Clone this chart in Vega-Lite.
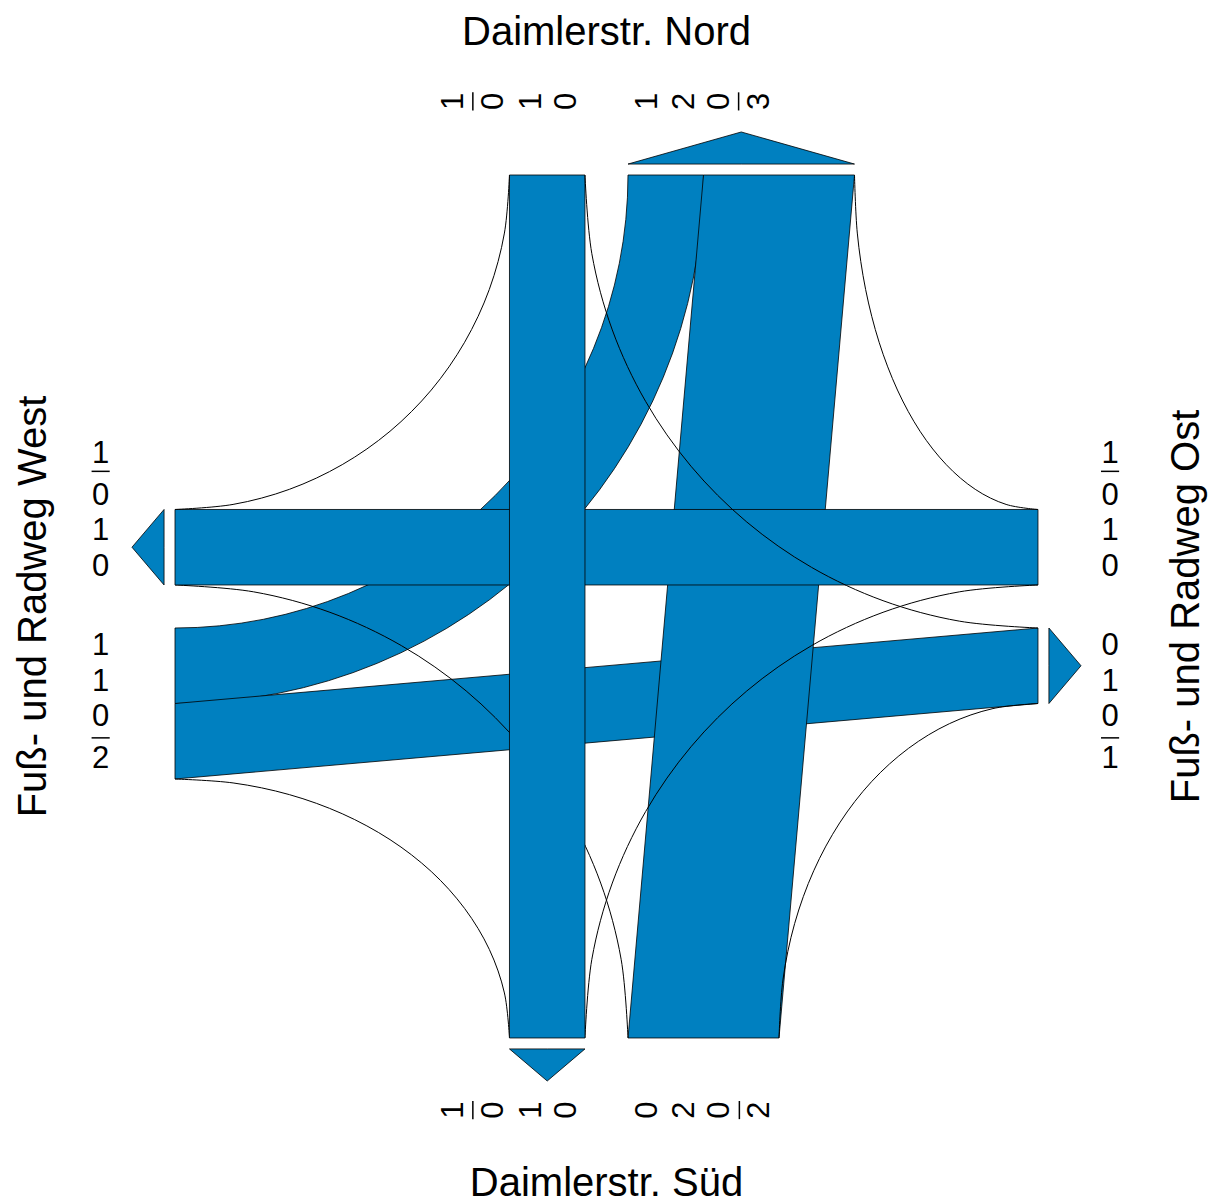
{
  "$schema": "https://vega.github.io/schema/vega-lite/v6.json",
  "width": 1216,
  "height": 1204,
  "autosize": "none",
  "padding": 0,
  "background": "white",
  "config": {"view": {"stroke": null}},
  "datasets": {
    "hbands": [
      {"band": "WE", "arm": "W", "x": -5.715, "y": -1.285, "y2": -2.285},
      {"band": "WE", "arm": "W", "x": 5.715, "y": -0.285, "y2": -1.285},
      {"band": "EW", "arm": "E", "x": -5.715, "y": 1.285, "y2": 0.285},
      {"band": "EW", "arm": "E", "x": 5.715, "y": 1.285, "y2": 0.285}
    ],
    "vbands": [
      {"band": "SN", "arm": "S", "y": -5.715, "x": 0.285, "x2": 2.285},
      {"band": "SN", "arm": "S", "y": 5.715, "x": 1.285, "x2": 3.285},
      {"band": "NS", "arm": "N", "y": -5.715, "x": -1.285, "x2": -0.285},
      {"band": "NS", "arm": "N", "y": 5.715, "x": -1.285, "x2": -0.285}
    ],
    "turns": [
      {"band": "WN", "arm": "W", "n": 1, "x": -5.715, "y": 5.715, "r1": 6, "r2": 7, "t1": 90, "t2": 180}
    ],
    "curves": [
      {"id": "NW", "arm": "N", "i": 0, "x": -1.285, "y": 5.715},
      {"id": "NW", "arm": "N", "i": 1, "x": -1.352, "y": 4.946},
      {"id": "NW", "arm": "N", "i": 2, "x": -1.552, "y": 4.2},
      {"id": "NW", "arm": "N", "i": 3, "x": -1.879, "y": 3.5},
      {"id": "NW", "arm": "N", "i": 4, "x": -2.321, "y": 2.867},
      {"id": "NW", "arm": "N", "i": 5, "x": -2.867, "y": 2.321},
      {"id": "NW", "arm": "N", "i": 6, "x": -3.5, "y": 1.879},
      {"id": "NW", "arm": "N", "i": 7, "x": -4.2, "y": 1.552},
      {"id": "NW", "arm": "N", "i": 8, "x": -4.946, "y": 1.352},
      {"id": "NW", "arm": "N", "i": 9, "x": -5.715, "y": 1.285},
      {"id": "NE", "arm": "N", "i": 0, "x": -0.285, "y": 5.715},
      {"id": "NE", "arm": "N", "i": 1, "x": -0.194, "y": 4.673},
      {"id": "NE", "arm": "N", "i": 2, "x": 0.077, "y": 3.663},
      {"id": "NE", "arm": "N", "i": 3, "x": 0.519, "y": 2.715},
      {"id": "NE", "arm": "N", "i": 4, "x": 1.119, "y": 1.858},
      {"id": "NE", "arm": "N", "i": 5, "x": 1.858, "y": 1.119},
      {"id": "NE", "arm": "N", "i": 6, "x": 2.715, "y": 0.519},
      {"id": "NE", "arm": "N", "i": 7, "x": 3.663, "y": 0.077},
      {"id": "NE", "arm": "N", "i": 8, "x": 4.673, "y": -0.194},
      {"id": "NE", "arm": "N", "i": 9, "x": 5.715, "y": -0.285},
      {"id": "EN", "arm": "E", "i": 0, "x": 3.285, "y": 5.715},
      {"id": "EN", "arm": "E", "i": 1, "x": 3.322, "y": 4.946},
      {"id": "EN", "arm": "E", "i": 2, "x": 3.432, "y": 4.2},
      {"id": "EN", "arm": "E", "i": 3, "x": 3.611, "y": 3.5},
      {"id": "EN", "arm": "E", "i": 4, "x": 3.854, "y": 2.867},
      {"id": "EN", "arm": "E", "i": 5, "x": 4.153, "y": 2.321},
      {"id": "EN", "arm": "E", "i": 6, "x": 4.5, "y": 1.879},
      {"id": "EN", "arm": "E", "i": 7, "x": 4.884, "y": 1.552},
      {"id": "EN", "arm": "E", "i": 8, "x": 5.293, "y": 1.352},
      {"id": "EN", "arm": "E", "i": 9, "x": 5.715, "y": 1.285},
      {"id": "ES", "arm": "E", "i": 0, "x": -0.285, "y": -5.715},
      {"id": "ES", "arm": "E", "i": 1, "x": -0.194, "y": -4.673},
      {"id": "ES", "arm": "E", "i": 2, "x": 0.077, "y": -3.663},
      {"id": "ES", "arm": "E", "i": 3, "x": 0.519, "y": -2.715},
      {"id": "ES", "arm": "E", "i": 4, "x": 1.119, "y": -1.858},
      {"id": "ES", "arm": "E", "i": 5, "x": 1.858, "y": -1.119},
      {"id": "ES", "arm": "E", "i": 6, "x": 2.715, "y": -0.519},
      {"id": "ES", "arm": "E", "i": 7, "x": 3.663, "y": -0.077},
      {"id": "ES", "arm": "E", "i": 8, "x": 4.673, "y": 0.194},
      {"id": "ES", "arm": "E", "i": 9, "x": 5.715, "y": 0.285},
      {"id": "SE", "arm": "S", "i": 0, "x": 2.285, "y": -5.715},
      {"id": "SE", "arm": "S", "i": 1, "x": 2.337, "y": -4.946},
      {"id": "SE", "arm": "S", "i": 2, "x": 2.492, "y": -4.2},
      {"id": "SE", "arm": "S", "i": 3, "x": 2.745, "y": -3.5},
      {"id": "SE", "arm": "S", "i": 4, "x": 3.088, "y": -2.867},
      {"id": "SE", "arm": "S", "i": 5, "x": 3.51, "y": -2.321},
      {"id": "SE", "arm": "S", "i": 6, "x": 4.0, "y": -1.879},
      {"id": "SE", "arm": "S", "i": 7, "x": 4.542, "y": -1.552},
      {"id": "SE", "arm": "S", "i": 8, "x": 5.119, "y": -1.352},
      {"id": "SE", "arm": "S", "i": 9, "x": 5.715, "y": -1.285},
      {"id": "SW", "arm": "S", "i": 0, "x": 0.285, "y": -5.715},
      {"id": "SW", "arm": "S", "i": 1, "x": 0.194, "y": -4.673},
      {"id": "SW", "arm": "S", "i": 2, "x": -0.077, "y": -3.663},
      {"id": "SW", "arm": "S", "i": 3, "x": -0.519, "y": -2.715},
      {"id": "SW", "arm": "S", "i": 4, "x": -1.119, "y": -1.858},
      {"id": "SW", "arm": "S", "i": 5, "x": -1.858, "y": -1.119},
      {"id": "SW", "arm": "S", "i": 6, "x": -2.715, "y": -0.519},
      {"id": "SW", "arm": "S", "i": 7, "x": -3.663, "y": -0.077},
      {"id": "SW", "arm": "S", "i": 8, "x": -4.673, "y": 0.194},
      {"id": "SW", "arm": "S", "i": 9, "x": -5.715, "y": 0.285},
      {"id": "WS", "arm": "W", "i": 0, "x": -1.285, "y": -5.715},
      {"id": "WS", "arm": "W", "i": 1, "x": -1.352, "y": -5.119},
      {"id": "WS", "arm": "W", "i": 2, "x": -1.552, "y": -4.542},
      {"id": "WS", "arm": "W", "i": 3, "x": -1.879, "y": -4.0},
      {"id": "WS", "arm": "W", "i": 4, "x": -2.321, "y": -3.51},
      {"id": "WS", "arm": "W", "i": 5, "x": -2.867, "y": -3.088},
      {"id": "WS", "arm": "W", "i": 6, "x": -3.5, "y": -2.745},
      {"id": "WS", "arm": "W", "i": 7, "x": -4.2, "y": -2.492},
      {"id": "WS", "arm": "W", "i": 8, "x": -4.946, "y": -2.337},
      {"id": "WS", "arm": "W", "i": 9, "x": -5.715, "y": -2.285}
    ],
    "arrowsV": [
      {"id": "N", "x": 0.285, "y": 5.86, "y2": 5.86},
      {"id": "N", "x": 1.785, "y": 6.285, "y2": 5.86},
      {"id": "N", "x": 3.285, "y": 5.86, "y2": 5.86},
      {"id": "S", "x": -1.285, "y": -5.86, "y2": -5.86},
      {"id": "S", "x": -0.785, "y": -6.285, "y2": -5.86},
      {"id": "S", "x": -0.285, "y": -5.86, "y2": -5.86}
    ],
    "arrowsH": [
      {"id": "W", "y": 0.285, "x": -5.86, "x2": -5.86},
      {"id": "W", "y": 0.785, "x": -6.285, "x2": -5.86},
      {"id": "W", "y": 1.285, "x": -5.86, "x2": -5.86},
      {"id": "E", "y": -1.285, "x": 5.86, "x2": 5.86},
      {"id": "E", "y": -0.785, "x": 6.285, "x2": 5.86},
      {"id": "E", "y": -0.285, "x": 5.86, "x2": 5.86}
    ],
    "labels": [
      {"lane": "W out", "dir": "h", "v": "1", "x": -6.7, "y": 2.02},
      {"lane": "W out", "dir": "h", "v": "0", "x": -6.7, "y": 1.47},
      {"lane": "W out", "dir": "h", "v": "1", "x": -6.7, "y": 0.995},
      {"lane": "W out", "dir": "h", "v": "0", "x": -6.7, "y": 0.52},
      {"lane": "W in", "dir": "h", "v": "1", "x": -6.7, "y": -0.52},
      {"lane": "W in", "dir": "h", "v": "1", "x": -6.7, "y": -0.995},
      {"lane": "W in", "dir": "h", "v": "0", "x": -6.7, "y": -1.47},
      {"lane": "W in", "dir": "h", "v": "2", "x": -6.7, "y": -2.02},
      {"lane": "E in", "dir": "h", "v": "1", "x": 6.67, "y": 2.02},
      {"lane": "E in", "dir": "h", "v": "0", "x": 6.67, "y": 1.47},
      {"lane": "E in", "dir": "h", "v": "1", "x": 6.67, "y": 0.995},
      {"lane": "E in", "dir": "h", "v": "0", "x": 6.67, "y": 0.52},
      {"lane": "E out", "dir": "h", "v": "0", "x": 6.67, "y": -0.52},
      {"lane": "E out", "dir": "h", "v": "1", "x": 6.67, "y": -0.995},
      {"lane": "E out", "dir": "h", "v": "0", "x": 6.67, "y": -1.47},
      {"lane": "E out", "dir": "h", "v": "1", "x": 6.67, "y": -2.02},
      {"lane": "N in", "dir": "v", "v": "1", "x": -2.02, "y": 6.69},
      {"lane": "N in", "dir": "v", "v": "0", "x": -1.49, "y": 6.69},
      {"lane": "N in", "dir": "v", "v": "1", "x": -0.99, "y": 6.69},
      {"lane": "N in", "dir": "v", "v": "0", "x": -0.52, "y": 6.69},
      {"lane": "N out", "dir": "v", "v": "1", "x": 0.55, "y": 6.69},
      {"lane": "N out", "dir": "v", "v": "2", "x": 1.04, "y": 6.69},
      {"lane": "N out", "dir": "v", "v": "0", "x": 1.5, "y": 6.69},
      {"lane": "N out", "dir": "v", "v": "3", "x": 2.03, "y": 6.69},
      {"lane": "S out", "dir": "v", "v": "1", "x": -2.02, "y": -6.67},
      {"lane": "S out", "dir": "v", "v": "0", "x": -1.49, "y": -6.67},
      {"lane": "S out", "dir": "v", "v": "1", "x": -0.99, "y": -6.67},
      {"lane": "S out", "dir": "v", "v": "0", "x": -0.52, "y": -6.67},
      {"lane": "S in", "dir": "v", "v": "0", "x": 0.55, "y": -6.67},
      {"lane": "S in", "dir": "v", "v": "2", "x": 1.04, "y": -6.67},
      {"lane": "S in", "dir": "v", "v": "0", "x": 1.5, "y": -6.67},
      {"lane": "S in", "dir": "v", "v": "2", "x": 2.03, "y": -6.67}
    ],
    "bars": [
      {"lane": "W out", "x": -6.82, "x2": -6.58, "y": 1.79, "y2": 1.79},
      {"lane": "W in", "x": -6.82, "x2": -6.58, "y": -1.74, "y2": -1.74},
      {"lane": "E in", "x": 6.55, "x2": 6.79, "y": 1.79, "y2": 1.79},
      {"lane": "E out", "x": 6.55, "x2": 6.79, "y": -1.74, "y2": -1.74},
      {"lane": "N in", "x": -1.77, "x2": -1.77, "y": 6.57, "y2": 6.81},
      {"lane": "N out", "x": 1.75, "x2": 1.75, "y": 6.57, "y2": 6.81},
      {"lane": "S out", "x": -1.77, "x2": -1.77, "y": -6.79, "y2": -6.55},
      {"lane": "S in", "x": 1.76, "x2": 1.76, "y": -6.79, "y2": -6.55}
    ],
    "titles": [
      {"t": "Daimlerstr. Nord", "dir": "h", "x": 0, "y": 7.437},
      {"t": "Daimlerstr. Süd", "dir": "h", "x": 0, "y": -7.808},
      {"t": "Fuß- und Radweg West", "dir": "v", "x": -7.424, "y": 0},
      {"t": "Fuß- und Radweg Ost", "dir": "v", "x": 7.848, "y": 0}
    ]
  },
  "encoding": {
    "x": {"field": "x", "type": "quantitative", "scale": {"domain": [-8.033, 8.073], "nice": false, "zero": false}, "axis": null},
    "y": {"field": "y", "type": "quantitative", "scale": {"domain": [-7.914, 8.033], "nice": false, "zero": false}, "axis": null}
  },
  "layer": [
    {
      "data": {"name": "turns"},
      "transform": [{"filter": "datum.arm == 'W'"}],
      "mark": {"type": "arc", "fill": "#0080C0", "stroke": "black", "strokeWidth": 0.8},
      "encoding": {
        "theta": {"field": "t1", "type": "quantitative", "stack": null, "scale": {"type": "linear", "domain": [0, 360], "range": [0, 6.283185307]}},
        "theta2": {"field": "t2"},
        "radius": {"field": "r1", "type": "quantitative", "scale": {"type": "linear", "domain": [0, 10], "range": [0, 755], "zero": true}},
        "radius2": {"field": "r2"}
      }
    },
    {
      "data": {"name": "hbands"},
      "transform": [{"filter": "datum.arm == 'W'"}],
      "mark": {"type": "area", "orient": "vertical", "fill": "#0080C0", "stroke": "black", "strokeWidth": 0.8},
      "encoding": {"y2": {"field": "y2"}}
    },
    {
      "data": {"name": "curves"},
      "transform": [{"filter": "datum.arm == 'W'"}],
      "mark": {"type": "line", "color": "black", "strokeWidth": 1, "interpolate": "cardinal"},
      "encoding": {"detail": {"field": "id"}, "order": {"field": "i"}}
    },
    {
      "data": {"name": "vbands"},
      "transform": [{"filter": "datum.arm == 'S'"}],
      "mark": {"type": "area", "orient": "horizontal", "fill": "#0080C0", "stroke": "black", "strokeWidth": 0.8},
      "encoding": {"x2": {"field": "x2"}}
    },
    {
      "data": {"name": "curves"},
      "transform": [{"filter": "datum.arm == 'S'"}],
      "mark": {"type": "line", "color": "black", "strokeWidth": 1, "interpolate": "cardinal"},
      "encoding": {"detail": {"field": "id"}, "order": {"field": "i"}}
    },
    {
      "data": {"name": "hbands"},
      "transform": [{"filter": "datum.arm == 'E'"}],
      "mark": {"type": "area", "orient": "vertical", "fill": "#0080C0", "stroke": "black", "strokeWidth": 0.8},
      "encoding": {"y2": {"field": "y2"}}
    },
    {
      "data": {"name": "curves"},
      "transform": [{"filter": "datum.arm == 'E'"}],
      "mark": {"type": "line", "color": "black", "strokeWidth": 1, "interpolate": "cardinal"},
      "encoding": {"detail": {"field": "id"}, "order": {"field": "i"}}
    },
    {
      "data": {"name": "vbands"},
      "transform": [{"filter": "datum.arm == 'N'"}],
      "mark": {"type": "area", "orient": "horizontal", "fill": "#0080C0", "stroke": "black", "strokeWidth": 0.8},
      "encoding": {"x2": {"field": "x2"}}
    },
    {
      "data": {"name": "curves"},
      "transform": [{"filter": "datum.arm == 'N'"}],
      "mark": {"type": "line", "color": "black", "strokeWidth": 1, "interpolate": "cardinal"},
      "encoding": {"detail": {"field": "id"}, "order": {"field": "i"}}
    },
    {
      "data": {"name": "arrowsV"},
      "mark": {"type": "area", "orient": "vertical", "fill": "#0080C0", "stroke": "black", "strokeWidth": 0.8},
      "encoding": {"y2": {"field": "y2"}, "detail": {"field": "id"}}
    },
    {
      "data": {"name": "arrowsH"},
      "mark": {"type": "area", "orient": "horizontal", "fill": "#0080C0", "stroke": "black", "strokeWidth": 0.8},
      "encoding": {"x2": {"field": "x2"}, "detail": {"field": "id"}}
    },
    {
      "data": {"name": "labels"},
      "transform": [{"filter": "datum.dir == 'h'"}],
      "mark": {"type": "text", "font": "Liberation Sans", "fontSize": 31, "align": "center", "baseline": "middle", "color": "black"},
      "encoding": {"text": {"field": "v"}}
    },
    {
      "data": {"name": "labels"},
      "transform": [{"filter": "datum.dir == 'v'"}],
      "mark": {"type": "text", "font": "Liberation Sans", "fontSize": 31, "align": "center", "baseline": "middle", "angle": 270, "color": "black"},
      "encoding": {"text": {"field": "v"}}
    },
    {
      "data": {"name": "bars"},
      "mark": {"type": "rule", "color": "black", "strokeWidth": 1.5},
      "encoding": {"x2": {"field": "x2"}, "y2": {"field": "y2"}}
    },
    {
      "data": {"name": "titles"},
      "transform": [{"filter": "datum.dir == 'h'"}],
      "mark": {"type": "text", "font": "Liberation Sans", "fontSize": 40, "align": "center", "baseline": "alphabetic", "color": "black"},
      "encoding": {"text": {"field": "t"}}
    },
    {
      "data": {"name": "titles"},
      "transform": [{"filter": "datum.dir == 'v'"}],
      "mark": {"type": "text", "font": "Liberation Sans", "fontSize": 40, "align": "center", "baseline": "alphabetic", "angle": 270, "color": "black"},
      "encoding": {"text": {"field": "t"}}
    }
  ]
}
